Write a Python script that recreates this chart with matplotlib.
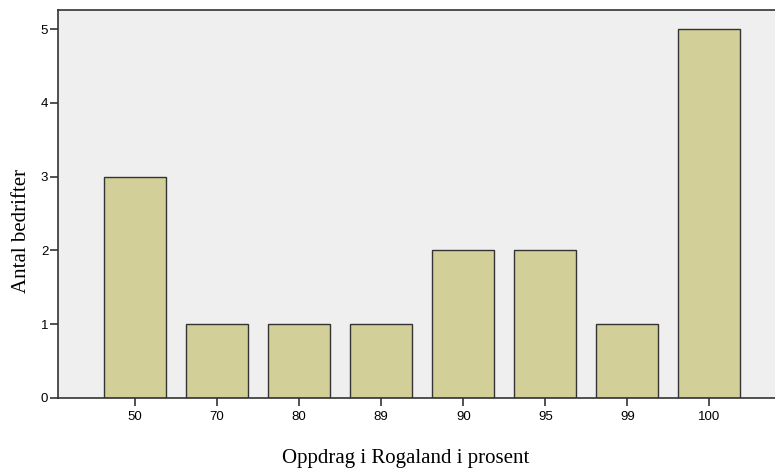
import matplotlib

matplotlib.use("Agg")
import matplotlib.pyplot as plt  # noqa: E402
import numpy as np  # noqa: E402

categories = ["50", "70", "80", "89", "90", "95", "99", "100"]
counts = [3, 1, 1, 1, 2, 2, 1, 5]

fig = plt.figure(figsize=(7.75, 4.71), dpi=100)
ax = fig.add_axes([58 / 775, 73 / 471, 717 / 775, 388 / 471])
ax.set_facecolor("#efefef")

x = np.arange(len(categories))
ax.bar(x, counts, width=0.756, color="#d3cf98", edgecolor="#333333", linewidth=1.0, zorder=2)

ax.set_xlim(-0.94, 7.8)
ax.set_ylim(0, 5.26)
ax.set_xticks(x)
ax.set_xticklabels(categories, fontsize=9.5, family="Liberation Sans")
ax.set_yticks(range(6))
ax.set_yticklabels([str(i) for i in range(6)], fontsize=9.5, family="Liberation Sans")
ax.tick_params(axis="y", direction="out", length=5.5, width=1.2, color="#333333", pad=1.5)
ax.tick_params(axis="x", direction="out", length=6, width=1.2, color="#333333", pad=3)

ax.spines["right"].set_visible(False)
for s in ("left", "top", "bottom"):
    ax.spines[s].set_color("#333333")
    ax.spines[s].set_linewidth(1.2)

ax.set_xlabel("Oppdrag i Rogaland i prosent", fontsize=15, family="Liberation Serif", labelpad=19)
ax.set_ylabel("Antal bedrifter", fontsize=15, family="Liberation Serif", labelpad=7)
ax.xaxis.label.set_x(0.485)
ax.yaxis.label.set_y(0.43)

fig.savefig("out.png", dpi=100)
